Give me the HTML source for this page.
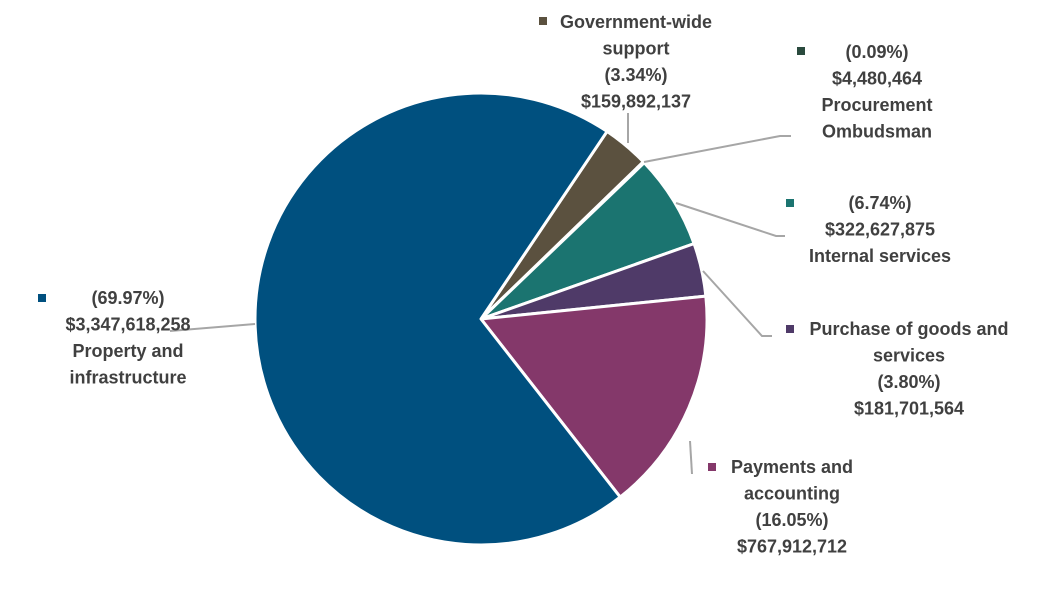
<!DOCTYPE html>
<html><head><meta charset="utf-8"><style>
html,body{margin:0;padding:0;background:#fff;}
svg{display:block;}
text{font-family:"Liberation Sans",sans-serif;font-weight:bold;font-size:18px;fill:#404040;text-anchor:middle;}
</style></head><body>
<svg id="chart" width="1061" height="599" viewBox="0 0 1061 599" xmlns="http://www.w3.org/2000/svg">
<g id="slices"></g>
<g id="leaders" stroke="#a6a6a6" stroke-width="2" fill="none">
<polyline points="628,143 628,113"/>
<polyline points="644,162 780,136 791,136"/>
<polyline points="676,203 776,236 785,236"/>
<polyline points="703,271 762,336 772,336"/>
<polyline points="690,441 692,474"/>
<polyline points="255,324 170,331"/>
</g>
<g id="labels"></g>
</svg>
<script>
const categories = ["Government-wide support","Procurement Ombudsman","Internal services","Purchase of goods and services","Payments and accounting","Property and infrastructure"];
const percents = [3.34, 0.09, 6.74, 3.80, 16.05, 69.97];
const amounts = ["$159,892,137","$4,480,464","$322,627,875","$181,701,564","$767,912,712","$3,347,618,258"];
const colors = ["#5b513f","#2a4a3e","#1b7470","#4f3a68","#84386a","#00507f"];
const startAngle = 33.9;
const cx = 481, cy = 319, r = 226;
const NS = "http://www.w3.org/2000/svg";
const total = percents.reduce((a,b)=>a+b,0);
const g = document.getElementById('slices');
function pt(deg){const a=deg*Math.PI/180;return [cx+r*Math.sin(a), cy-r*Math.cos(a)];}
let ang = startAngle;
percents.forEach((p,i)=>{
  const sweep = p/total*360;
  const [x1,y1]=pt(ang),[x2,y2]=pt(ang+sweep);
  const path=document.createElementNS(NS,'path');
  path.setAttribute('d',`M${cx},${cy} L${x1},${y1} A${r},${r} 0 ${sweep>180?1:0} 1 ${x2},${y2} Z`);
  path.setAttribute('fill',colors[i]);
  path.setAttribute('stroke','#fff');
  path.setAttribute('stroke-width','3');
  path.setAttribute('stroke-linejoin','round');
  
  
  g.appendChild(path);
  ang += sweep;
});
const pc = i => '('+percents[i].toFixed(2)+'%)';
const layouts = [
  [543,21,636,22,["Government-wide","support",pc(0),amounts[0]]],
  [801,51,877,52,[pc(1),amounts[1],"Procurement","Ombudsman"]],
  [790,203,880,203,[pc(2),amounts[2],"Internal services"]],
  [790,329,909,329,["Purchase of goods and","services",pc(3),amounts[3]]],
  [712,467,792,467,["Payments and","accounting",pc(4),amounts[4]]],
  [42,298,128,298,[pc(5),amounts[5],"Property and","infrastructure"]]
];
const lg = document.getElementById('labels');
layouts.forEach((L,i)=>{
  const grp=document.createElementNS(NS,'g');
  
  
  const m=document.createElementNS(NS,'rect');
  m.setAttribute('x',L[0]-4);m.setAttribute('y',L[1]-4);m.setAttribute('width',8);m.setAttribute('height',8);
  m.setAttribute('fill',colors[i]);
  
  
  grp.appendChild(m);
  L[4].forEach((s,j)=>{
    const t=document.createElementNS(NS,'text');
    t.setAttribute('x',L[2]);t.setAttribute('y',L[3]+6+j*26.5);
    t.textContent=s;
    
    
    grp.appendChild(t);
  });
  lg.appendChild(grp);
});
</script>
</body></html>
